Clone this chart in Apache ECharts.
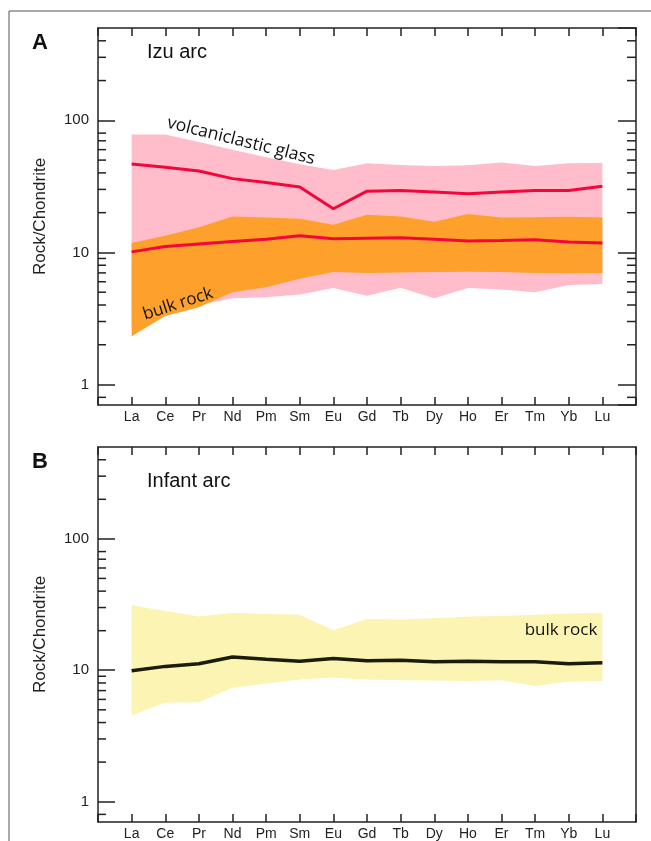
<!DOCTYPE html>
<html>
<head>
<meta charset="utf-8">
<script src="https://cdn.jsdelivr.net/npm/echarts@6/dist/echarts.min.js"></script>
<style>
html, body { margin: 0; padding: 0; background: #fff; }
#chart { width: 651px; height: 841px; }
</style>
</head>
<body>
<div id="chart"></div>
<script>
const elements = ['La', 'Ce', 'Pr', 'Nd', 'Pm', 'Sm', 'Eu', 'Gd', 'Tb', 'Dy', 'Ho', 'Er', 'Tm', 'Yb', 'Lu'];

// A: Izu arc
const glassUpper = [78, 78, 68.5, 60, 52.5, 46.5, 42, 47.3, 45.9, 45.2, 45.7, 47.9, 45.2, 47.3, 47.6];
const glassLower = [2.75, 3.35, 4.0, 4.5, 4.57, 4.8, 5.38, 4.71, 5.4, 4.5, 5.38, 5.23, 4.99, 5.68, 5.77];
const glassMean = [46.8, 44.2, 41.4, 36.2, 33.8, 31.3, 21.4, 29.1, 29.4, 28.7, 27.8, 28.7, 29.4, 29.4, 31.7];
const bulkUpper = [11.8, 13.4, 15.5, 18.7, 18.4, 18.0, 16.2, 19.3, 18.7, 17.1, 19.5, 18.4, 18.5, 18.6, 18.4];
const bulkLower = [2.32, 3.3, 3.84, 4.99, 5.44, 6.33, 7.11, 6.98, 7.05, 7.1, 7.14, 7.1, 7.0, 7.0, 7.0];
const bulkMean = [10.1, 11.1, 11.6, 12.1, 12.6, 13.4, 12.7, 12.8, 12.9, 12.6, 12.2, 12.3, 12.5, 12.0, 11.8];

// B: Infant arc
const infantUpper = [31.2, 28.3, 25.7, 27.4, 26.8, 26.5, 20.1, 24.7, 24.3, 24.9, 25.7, 25.9, 26.5, 27.0, 27.4];
const infantLower = [4.55, 5.65, 5.7, 7.35, 7.92, 8.5, 8.8, 8.5, 8.4, 8.36, 8.3, 8.4, 7.6, 8.2, 8.3];
const infantMean = [9.9, 10.7, 11.2, 12.6, 12.1, 11.7, 12.3, 11.8, 11.9, 11.6, 11.7, 11.6, 11.6, 11.2, 11.4];

// minor ticks drawn on the log axes
const minorTicks = [0.8, 2, 3, 4, 5, 6, 7, 8, 9, 20, 30, 40, 50, 60, 70, 80, 200, 300, 400];

const ink = '#222';
const font = 'Liberation Sans, Arial, sans-serif';
const noteFont = 'Open Sans, sans-serif';

const myChart = echarts.init(document.getElementById('chart'));

function xAxes(g) {
  const base = {
    gridIndex: g,
    type: 'value',
    min: -1,
    max: 15,
    interval: 1,
    splitLine: {show: false},
    axisLine: {onZero: false, lineStyle: {color: ink, width: 1.5}},
    axisTick: {inside: true, length: 8, lineStyle: {color: ink, width: 1.5}}
  };
  return [
    Object.assign({}, base, {
      position: 'bottom',
      axisLabel: {
        formatter: v => elements[v] || '',
        fontSize: 14,
        color: ink,
        margin: 5,
        fontFamily: font
      }
    }),
    Object.assign({}, base, {position: 'top', axisLabel: {show: false}})
  ];
}

function yAxes(g, rightTicks) {
  const base = {
    gridIndex: g,
    type: 'log',
    logBase: 10,
    min: 0.7,
    max: 500,
    splitLine: {show: false},
    axisLine: {onZero: false, lineStyle: {color: ink, width: 1.5}}
  };
  return [
    Object.assign({}, base, {
      position: 'left',
      axisTick: {inside: true, length: 17, lineStyle: {color: ink, width: 1.5}},
      axisLabel: {
        showMinLabel: false,
        showMaxLabel: false,
        fontSize: 15,
        color: ink,
        margin: 9,
        fontFamily: font
      },
      name: 'Rock/Chondrite',
      nameLocation: 'middle',
      nameRotate: 90,
      nameGap: 49,
      nameTextStyle: {fontSize: 17, color: ink, fontFamily: font}
    }),
    Object.assign({}, base, {
      position: 'right',
      axisTick: {show: rightTicks, inside: true, length: 18, lineStyle: {color: ink, width: 1.5}},
      axisLabel: {show: false}
    })
  ];
}

function band(xi, yi, lower, upper, color) {
  return {
    type: 'custom',
    xAxisIndex: xi,
    yAxisIndex: yi,
    silent: true,
    z: 1,
    data: elements.map((e, i) => [i, lower[i], upper[i]]),
    encode: {x: 0, y: [1, 2]},
    renderItem: function (params, api) {
      if (params.dataIndexInside !== 0) return;
      const n = params.dataInsideLength;
      const top = [];
      const bot = [];
      for (let k = 0; k < n; k++) {
        top.push(api.coord([api.value(0, k), api.value(2, k)]));
        bot.push(api.coord([api.value(0, k), api.value(1, k)]));
      }
      return {
        type: 'polygon',
        shape: {points: top.concat(bot.reverse())},
        style: {fill: color}
      };
    }
  };
}

function meanLine(xi, yi, values, color, width) {
  return {
    type: 'line',
    xAxisIndex: xi,
    yAxisIndex: yi,
    z: 5,
    data: elements.map((e, i) => [i, values[i]]),
    showSymbol: false,
    lineStyle: {color: color, width: width}
  };
}

function minorTickSeries(xi, yi, bothSides) {
  return {
    type: 'custom',
    xAxisIndex: xi,
    yAxisIndex: yi,
    silent: true,
    z: 6,
    data: minorTicks.map(v => [0, v]),
    renderItem: function (params, api) {
      const y = api.coord([0, api.value(1)])[1];
      const cs = params.coordSys;
      const st = {stroke: ink, lineWidth: 1.5};
      const children = [
        {type: 'line', shape: {x1: cs.x, y1: y, x2: cs.x + 8, y2: y}, style: st}
      ];
      if (bothSides) {
        children.push({
          type: 'line',
          shape: {x1: cs.x + cs.width - 9, y1: y, x2: cs.x + cs.width, y2: y},
          style: st
        });
      }
      return {type: 'group', children: children};
    }
  };
}

function note(text, x, y, size, deg) {
  return {
    type: 'text',
    z: 100,
    x: x,
    y: y,
    rotation: deg * Math.PI / 180,
    style: {
      text: text,
      fontSize: size,
      fontFamily: noteFont,
      fill: '#111',
      textAlign: 'center',
      textVerticalAlign: 'middle'
    }
  };
}

function title(text, x, y, size, weight) {
  return {
    type: 'text',
    z: 100,
    x: x,
    y: y,
    style: {text: text, fontSize: size, fontWeight: weight, fontFamily: font, fill: '#111'}
  };
}

myChart.setOption({
  animation: false,
  backgroundColor: '#fff',
  grid: [
    {left: 98, right: 15, top: 28, height: 377},
    {left: 98, right: 15, top: 447, height: 377}
  ],
  xAxis: xAxes(0).concat(xAxes(1)),
  yAxis: yAxes(0, true).concat(yAxes(1, false)),
  series: [
    band(0, 0, glassLower, glassUpper, '#ffbdcb'),
    band(0, 0, bulkLower, bulkUpper, '#fda12c'),
    meanLine(0, 0, glassMean, '#f4053a', 3),
    meanLine(0, 0, bulkMean, '#f4053a', 3),
    minorTickSeries(0, 0, true),
    band(2, 2, infantLower, infantUpper, '#fcf4b3'),
    meanLine(2, 2, infantMean, '#1c1c0c', 3.5),
    minorTickSeries(2, 2, false)
  ],
  graphic: [
    {type: 'line', shape: {x1: 9, y1: 11, x2: 651, y2: 11}, style: {stroke: '#555', lineWidth: 1}},
    {type: 'line', shape: {x1: 9, y1: 11, x2: 9, y2: 841}, style: {stroke: '#555', lineWidth: 1}},
    title('A', 32, 32, 22, 'bold'),
    title('Izu arc', 147, 42, 20, 'normal'),
    note('volcaniclastic glass', 241, 141, 17.5, -14),
    note('bulk rock', 178, 304, 17, 18),
    title('B', 32, 451, 22, 'bold'),
    title('Infant arc', 147, 471, 20, 'normal'),
    note('bulk rock', 561, 630, 17, 0)
  ]
});
</script>
</body>
</html>
